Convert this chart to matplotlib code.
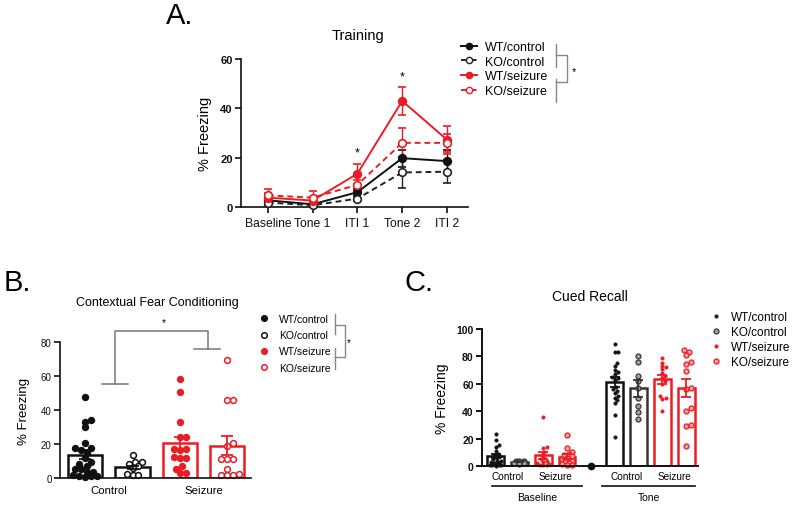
import matplotlib
matplotlib.use('Agg')
import matplotlib.pyplot as plt
import numpy as np
from matplotlib.lines import Line2D
import matplotlib.transforms as mtransforms

plt.rcParams['font.family'] = ['Liberation Sans', 'DejaVu Sans']

# ---------------- data ----------------
# Panel A: Training
timepoints = ['Baseline', 'Tone 1', 'ITI 1', 'Tone 2', 'ITI 2']
groups = ['WT/control', 'KO/control', 'WT/seizure', 'KO/seizure']
wt_ctrl_A = [2.7, 1.1, 6.0, 19.8, 18.6]
wt_ctrl_A_err = [1.0, 0.6, 1.5, 3.5, 4.5]
ko_ctrl_A = [1.8, 0.7, 3.4, 14.0, 14.3]
ko_ctrl_A_err = [0.8, 0.5, 1.0, 6.2, 4.6]
wt_seiz_A = [3.8, 2.6, 13.5, 43.0, 27.3]
wt_seiz_A_err = [2.0, 1.5, 4.0, 5.5, 5.7]
ko_seiz_A = [4.7, 3.8, 9.0, 26.0, 26.0]
ko_seiz_A_err = [2.5, 2.7, 2.0, 6.0, 3.5]
sig_A = ['ITI 1', 'Tone 2']

# Panel B: Contextual fear conditioning
cond_B = ['Control', 'Seizure']
means_B = [13.8, 6.3, 20.4, 19.1]
sems_B = [2.5, 1.0, 3.9, 5.8]
wt_ctrl_B = [47.8, 34, 33, 29.8, 20.6, 17.8, 17.8, 16.7, 15, 12, 9.6, 8.2, 7.2,
             5.3, 5.3, 3.3, 3.3, 1.8, 1.4, 1.0, 0.8, 1.0]
ko_ctrl_B = [13.5, 9.6, 9.2, 8.2, 6.9, 5.7, 2.4, 2.0, 2.0]
wt_seiz_B = [58.3, 50.5, 33.2, 24.4, 24.0, 17.0, 16.5, 17.0, 11.8, 12.2, 11.8,
             5.3, 7.3, 3.0, 3.0]
ko_seiz_B = [69.5, 46, 46, 19, 20.4, 11.2, 11.2, 11.2, 5.3, 2.4, 1.8, 1.8, 1.8]

# Panel C: Cued recall
phases_C = ['Baseline', 'Tone']
means_C_base = [7.3, 3.0, 7.8, 6.8]
sems_C_base = [1.4, 0.3, 2.4, 1.6]
means_C_tone = [61.0, 56.8, 63.4, 56.8]
sems_C_tone = [3.7, 6.3, 3.2, 6.5]
wt_ctrl_C_base = [23, 19, 15.5, 14, 11, 9, 8, 7, 6, 5, 4, 3.5, 3, 2.5, 2, 1.5,
                  1, 1, 0.5, 0.5, 0]
ko_ctrl_C_base = [4, 3.5, 3.5, 3, 3, 2.5, 2.5, 2, 1.5]
wt_seiz_C_base = [35.5, 14, 13, 10, 8, 6, 5, 4, 3, 2, 1.5, 1, 0.5, 0.5]
ko_seiz_C_base = [22.5, 13, 10, 9, 8, 7, 6, 5, 4, 3, 2, 1.5, 1, 0.5]
wt_ctrl_C_tone = [89, 83.5, 83.5, 75, 73, 70, 68.5, 67, 65, 64, 63, 58, 56, 55,
                  53, 51, 50, 48, 46, 37, 21.5]
ko_ctrl_C_tone = [80, 76, 66, 62, 57, 50, 44, 39.5, 34]
wt_seiz_C_tone = [79, 75.5, 73, 72, 70.5, 68, 66, 64, 62, 60, 51, 50, 49, 40]
ko_seiz_C_tone = [84.5, 83.5, 81, 76, 74.5, 69, 57, 56, 42, 40, 30, 29, 14.5]
gap_C = [0]

RED = '#ec1c24'
BLACK = '#111111'
GREY = '#888888'

W, H = 800, 506
fig = plt.figure(figsize=(8, 5.06), dpi=100)


def fx(px):
    return px / W


def fy(py):
    return 1 - py / H


def add_axes(x0, x1, ybot, ytop):
    return fig.add_axes([fx(x0), fy(ybot), fx(x1) - fx(x0), fy(ytop) - fy(ybot)])


def style(ax, lw=1.2):
    for s in ['top', 'right']:
        ax.spines[s].set_visible(False)
    for s in ['left', 'bottom']:
        ax.spines[s].set_linewidth(lw)
        ax.spines[s].set_color(BLACK)
    ax.tick_params(direction='out', length=4, width=lw, colors=BLACK)


def swarm_x(ax, xc, vals, diam, halfwidth, overlap=0.75):
    """Beeswarm-like layout kept within +-halfwidth (data units)."""
    inv = ax.transData.inverted()
    x0p = ax.transData.transform((xc, 0))[0]
    lim = ax.transData.transform((xc + halfwidth, 0))[0] - x0p - diam / 2
    placed = []
    xs = np.empty(len(vals))
    order = np.argsort(vals)
    step = diam * 0.3
    need = (overlap * diam) ** 2
    for i in order:
        yp = ax.transData.transform((xc, vals[i]))[1]
        cands = [0.0]
        k = 1
        while k * step <= lim:
            cands += [k * step, -k * step]
            k += 1
        best, bestd = 0.0, -1
        chosen = None
        for o in cands:
            d = min([(o - px) ** 2 + (yp - py) ** 2 for px, py in placed] or [1e9])
            if d >= need:
                chosen = o
                break
            if d > bestd:
                best, bestd = o, d
        if chosen is None:
            chosen = best
        placed.append((chosen, yp))
        xs[i] = inv.transform((x0p + chosen, yp))[0]
    return xs


def line(x, y, **kw):
    fig.add_artist(Line2D([fx(v) for v in x], [fy(v) for v in y],
                          transform=fig.transFigure, **kw))


def errbars(ax, xs, means, sems, cols, capsize):
    for xi, m, s, c in zip(xs, means, sems, cols):
        ax.errorbar([xi], [m], yerr=[s], fmt='none', ecolor=c, elinewidth=1.3,
                    capsize=capsize, capthick=1.3, zorder=3)


# ---------------- Panel A ----------------
axA = add_axes(241, 468, 208, 60)
style(axA)
xA = np.arange(len(timepoints))
seriesA = [
    (wt_ctrl_A, wt_ctrl_A_err, BLACK, '-', BLACK),
    (ko_ctrl_A, ko_ctrl_A_err, '#222222', (0, (3, 2)), 'white'),
    (wt_seiz_A, wt_seiz_A_err, RED, '-', RED),
    (ko_seiz_A, ko_seiz_A_err, RED, (0, (3, 2)), 'white'),
]
for vals, err, c, ls, mfc in seriesA:
    axA.errorbar(xA, vals, yerr=err, color=c, ls=ls, lw=1.4, marker='o', ms=5.5,
                 mfc=mfc, mec=c, mew=1.2, capsize=3, elinewidth=1.0, capthick=1.0,
                 clip_on=False, zorder=3)
axA.set_xlim(-0.6, 4.47)
axA.set_ylim(0, 60)
axA.set_yticks([0, 20, 40, 60])
axA.set_xticks(xA)
axA.set_xticklabels(timepoints, fontsize=8.7)
axA.tick_params(axis='y', labelsize=8, pad=2)
for t in axA.get_yticklabels():
    t.set_fontweight('bold')
axA.set_ylabel('% Freezing', fontsize=10.5, labelpad=6)
for name in sig_A:
    i = timepoints.index(name)
    top = max(v[i] + e[i] for v, e, *_ in seriesA)
    axA.text(i, top + 2.0, '*', ha='center', va='bottom', fontsize=9)
fig.text(fx(358), fy(36), 'Training', ha='center', va='center', fontsize=10.5)
fig.text(fx(166), fy(16), 'A.', ha='left', va='center', fontsize=21)

handlesA = [Line2D([], [], color=c, ls=ls, lw=1.4, marker='o', ms=4.5, mfc=mfc,
                   mec=c, mew=1.0) for _, _, c, ls, mfc in seriesA]
fig.legend(handlesA, groups, loc='upper left', bbox_to_anchor=(fx(461), fy(42)),
           frameon=False, fontsize=9, handlelength=1.3, handletextpad=0.6,
           labelspacing=0.22, borderpad=0, borderaxespad=0)
line([556, 556], [45, 68], color=GREY, lw=1)
line([556, 556], [80, 103], color=GREY, lw=1)
line([556, 567, 567, 556], [56, 56, 83, 83], color=GREY, lw=1)
fig.text(fx(574), fy(72), '*', ha='center', va='center', fontsize=8)

# ---------------- Panel B ----------------
axB = add_axes(60, 251, 479, 343)
style(axB)
axB.set_xlim(-0.53, 3.5)
axB.set_ylim(0, 80)
xB = np.arange(4)
colsB = [BLACK, BLACK, RED, RED]
barw_B = 0.72
axB.bar(xB, means_B, width=barw_B, facecolor='white', edgecolor=colsB, lw=1.8,
        zorder=1)
ptsB = [(wt_ctrl_B, BLACK, BLACK), (ko_ctrl_B, BLACK, 'white'),
        (wt_seiz_B, RED, RED), (ko_seiz_B, RED, 'white')]
msB = 4.2
for xi, (vals, c, mfc) in zip(xB, ptsB):
    xs = swarm_x(axB, xi, vals, msB * 100 / 72 + 0.8, barw_B / 2, overlap=0.8)
    axB.plot(xs, vals, 'o', ms=msB, mfc=mfc, mec=c, mew=1.1, ls='none',
             clip_on=False, zorder=2)
errbars(axB, xB, means_B, sems_B, colsB, 4.5)
axB.set_xticks([])
axB.set_yticks([0, 20, 40, 60, 80])
axB.tick_params(axis='y', labelsize=7, pad=2)
axB.set_ylabel('% Freezing', fontsize=9.5, labelpad=8)
for j, lab in enumerate(cond_B):
    axB.annotate(lab, xy=(2 * j + 0.5, 0), xycoords=axB.get_xaxis_transform(),
                 xytext=(0, -8.5), textcoords='offset points', ha='center',
                 va='center', fontsize=8.2)
bk = dict(color='#777777', lw=1.1, clip_on=False)
axB.plot([0.35, 0.9], [55.3, 55.3], **bk)
axB.plot([0.63, 0.63, 2.6, 2.6], [55.3, 86.6, 86.6, 75.9], **bk)
axB.plot([2.3, 2.84], [75.9, 75.9], **bk)
axB.text(1.65, 88.5, '*', ha='center', va='bottom', fontsize=7)
fig.text(fx(157), fy(303), 'Contextual Fear Conditioning', ha='center',
         va='center', fontsize=9)
fig.text(fx(4), fy(283), 'B.', ha='left', va='center', fontsize=21)

handlesB = [Line2D([], [], ls='none', marker='o', ms=4, mfc=mfc, mec=c, mew=1.1)
            for _, c, mfc in ptsB]
fig.legend(handlesB, groups, loc='upper left', bbox_to_anchor=(fx(260), fy(315)),
           frameon=False, fontsize=7.5, handlelength=0.8, handletextpad=1.0,
           labelspacing=0.6, borderpad=0, borderaxespad=0)
line([335, 335], [315, 335], color=GREY, lw=1)
line([335, 335], [349, 370], color=GREY, lw=1)
line([335, 345, 345, 335], [326, 326, 358, 358], color=GREY, lw=1)
fig.text(fx(349), fy(343), '*', ha='center', va='center', fontsize=7)

# ---------------- Panel C ----------------
axC = add_axes(482, 698, 467, 330)
style(axC, lw=1.4)
axC.set_xlim(-0.57, 8.5)
axC.set_ylim(0, 100)
xC_base = np.arange(4)
xC_tone = np.arange(5, 9)
colsC = [BLACK, '#333333', RED, RED]
barw_C = 0.71
axC.bar(xC_base, means_C_base, width=barw_C, facecolor='white', edgecolor=colsC,
        lw=1.8, zorder=1)
axC.bar(xC_tone, means_C_tone, width=barw_C, facecolor='white', edgecolor=colsC,
        lw=1.8, zorder=1)
styC = [dict(ms=2.4, mfc=BLACK, mec=BLACK, mew=0.5),
        dict(ms=3.6, mfc='#a0a0a0', mec='#3a3a3a', mew=0.9),
        dict(ms=2.4, mfc=RED, mec=RED, mew=0.5),
        dict(ms=3.6, mfc='#f5a0a0', mec=RED, mew=0.9)]
base_sets = [wt_ctrl_C_base, ko_ctrl_C_base, wt_seiz_C_base, ko_seiz_C_base]
tone_sets = [wt_ctrl_C_tone, ko_ctrl_C_tone, wt_seiz_C_tone, ko_seiz_C_tone]
for xs_c, sets in [(xC_base, base_sets), (xC_tone, tone_sets)]:
    for xi, vals, st in zip(xs_c, sets, styC):
        xs = swarm_x(axC, xi, vals, st['ms'] * 100 / 72 + 0.6, barw_C / 2,
                     overlap=0.8)
        axC.plot(xs, vals, 'o', ls='none', clip_on=False, zorder=2, **st)
errbars(axC, xC_base, means_C_base, sems_C_base, colsC, 3.5)
errbars(axC, xC_tone, means_C_tone, sems_C_tone, colsC, 3.5)
axC.plot([4], gap_C, 'o', ms=4.5, color=BLACK, clip_on=False, zorder=4)
axC.set_xticks([])
axC.set_yticks([0, 20, 40, 60, 80, 100])
axC.tick_params(axis='y', labelsize=7.5, pad=2)
for t in axC.get_yticklabels():
    t.set_fontweight('bold')
axC.set_ylabel('% Freezing', fontsize=10, labelpad=5)
for base in [0, 5]:
    for j, lab in enumerate(cond_B):
        axC.annotate(lab, xy=(base + 2 * j + 0.5, 0),
                     xycoords=axC.get_xaxis_transform(), xytext=(0, -7.5),
                     textcoords='offset points', ha='center', va='center',
                     fontsize=7.2)
under = mtransforms.offset_copy(axC.get_xaxis_transform(), fig=fig, y=-20,
                                units='dots')
for (a, b), lab in zip([(-0.15, 3.63), (4.47, 8.38)], phases_C):
    axC.plot([a, b], [0, 0], color=BLACK, lw=1.2, transform=under, clip_on=False)
    axC.annotate(lab, xy=((a + b) / 2, 0), xycoords=axC.get_xaxis_transform(),
                 xytext=(0, -22.5), textcoords='offset points', ha='center',
                 va='center', fontsize=7.5)
fig.text(fx(590), fy(297), 'Cued Recall', ha='center', va='center', fontsize=10)
fig.text(fx(404), fy(283), 'C.', ha='left', va='center', fontsize=21)

handlesC = [Line2D([], [], ls='none', marker='o', **st) for st in styC]
fig.legend(handlesC, groups, loc='upper left', bbox_to_anchor=(fx(711), fy(312)),
           frameon=False, fontsize=8.5, handlelength=0.8, handletextpad=0.9,
           labelspacing=0.25, borderpad=0, borderaxespad=0)

fig.savefig('out.png', dpi=100)
